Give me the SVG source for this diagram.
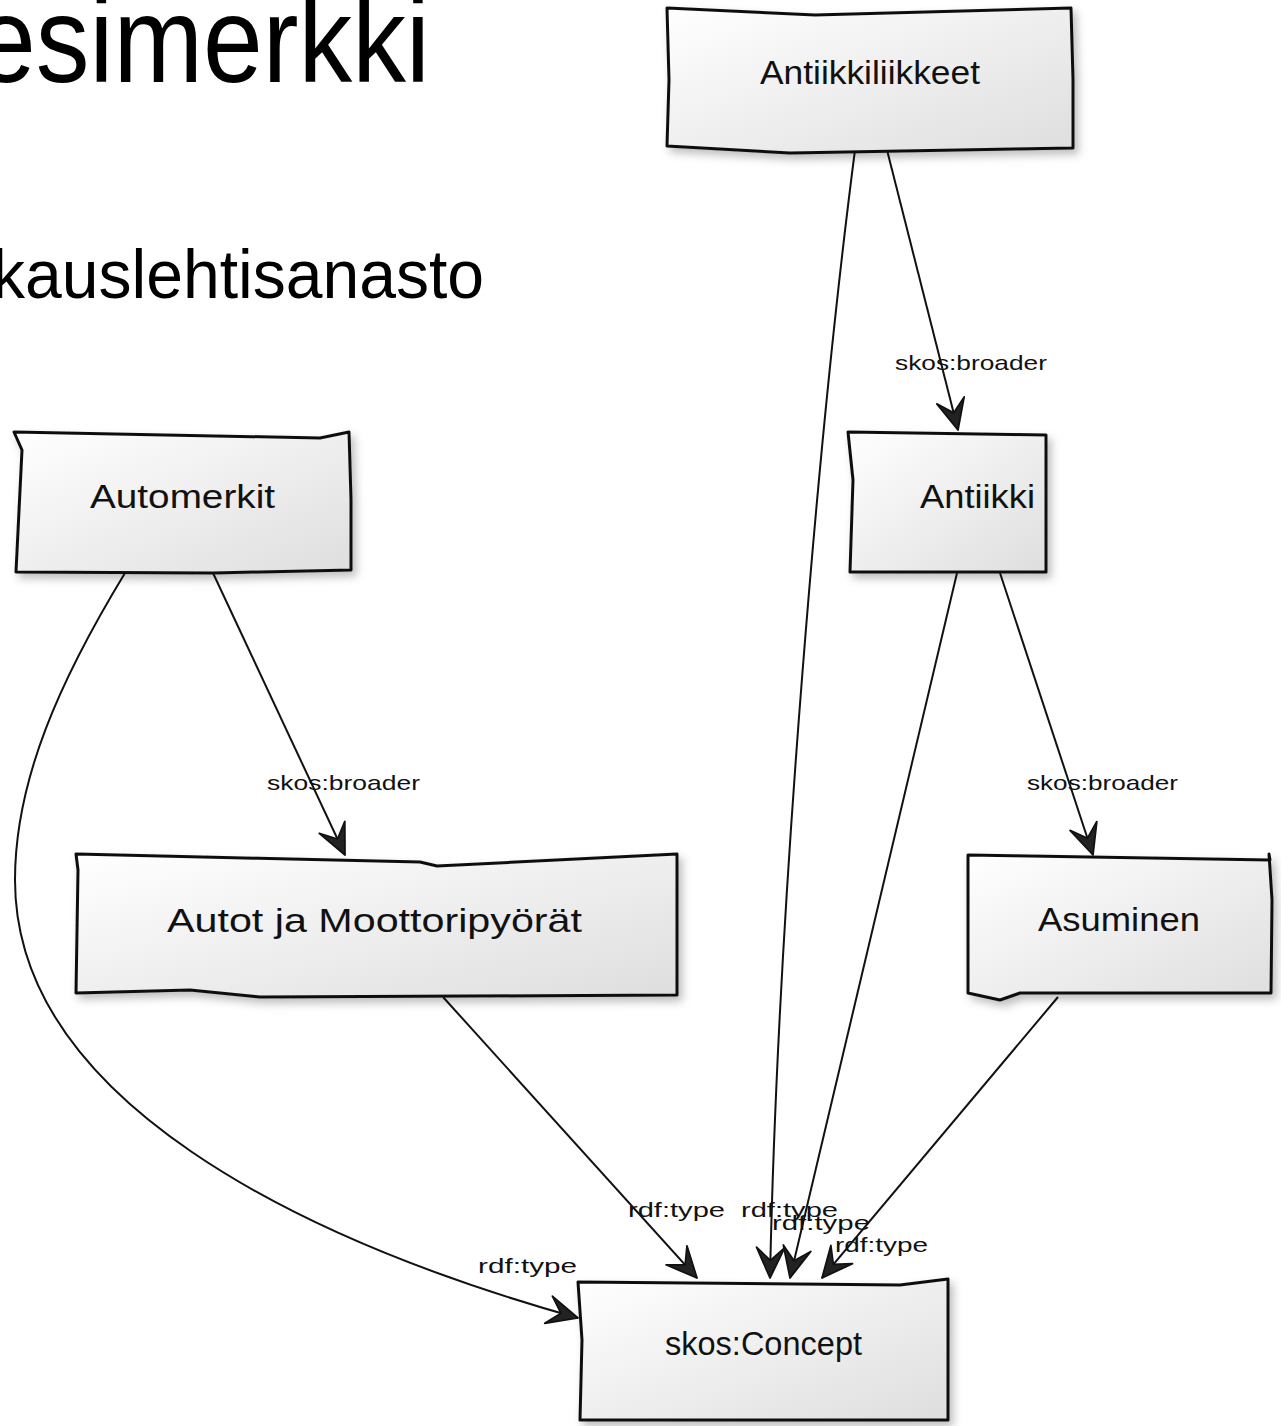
<svg xmlns="http://www.w3.org/2000/svg" width="1281" height="1426" viewBox="0 0 1281 1426">
<style>
.box{fill:url(#g);stroke:#111;stroke-width:3;stroke-linejoin:round;filter:url(#sh)}
.nt{font-family:"Liberation Sans",Arial,sans-serif;font-size:33px;fill:#111;text-anchor:start}
.lb{font-family:"Liberation Sans",Arial,sans-serif;font-size:21px;fill:#111}
.cn{fill:none;stroke:#111;stroke-width:2}
.title{font-family:"Liberation Sans",Arial,sans-serif;fill:#000}
</style>
<defs>
<linearGradient id="g" x1="0" y1="0" x2="1" y2="1">
<stop offset="0" stop-color="#ffffff"/>
<stop offset="1" stop-color="#dedede"/>
</linearGradient>
<filter id="sh" x="-10%" y="-10%" width="125%" height="130%">
<feDropShadow dx="4" dy="5" stdDeviation="4" flood-color="#000" flood-opacity="0.25"/>
</filter>
<marker id="ah" markerUnits="userSpaceOnUse" markerWidth="40" markerHeight="40" viewBox="-30 -15 34 30" refX="0" refY="0" orient="auto">
<path d="M0,0 L-26,-12 L-15,0 L-26,12 Z" fill="#222" stroke="#111" stroke-width="1.5" stroke-linejoin="round"/>
</marker>
</defs>
<rect width="1281" height="1426" fill="#fff"/>
<g id="title">
<text class="title" x="-24" y="82" font-size="122" textLength="454" lengthAdjust="spacingAndGlyphs">esimerkki</text>
<text class="title" x="-8" y="298" font-size="68" textLength="492" lengthAdjust="spacingAndGlyphs">kauslehtisanasto</text>
</g>
<g id="connectors">
<path class="cn" d="M887,150 L958,430" marker-end="url(#ah)"/>
<path class="cn" d="M855,150 C820,420 778,900 770,1278" marker-end="url(#ah)"/>
<path class="cn" d="M213,573 L345,855" marker-end="url(#ah)"/>
<path class="cn" d="M125,573 C60,680 15,780 15,880 C15,1100 300,1240 578,1318" marker-end="url(#ah)"/>
<path class="cn" d="M1000,573 L1093,855" marker-end="url(#ah)"/>
<path class="cn" d="M957,573 L790,1278" marker-end="url(#ah)"/>
<path class="cn" d="M443,997 L697,1278" marker-end="url(#ah)"/>
<path class="cn" d="M1058,997 L822,1278" marker-end="url(#ah)"/>
<text class="lb" x="895" y="370" textLength="152" lengthAdjust="spacingAndGlyphs">skos:broader</text>
<text class="lb" x="267" y="790" textLength="153" lengthAdjust="spacingAndGlyphs">skos:broader</text>
<text class="lb" x="1027" y="790" textLength="151" lengthAdjust="spacingAndGlyphs">skos:broader</text>
<text class="lb" x="478" y="1273" textLength="99" lengthAdjust="spacingAndGlyphs">rdf:type</text>
<text class="lb" x="628" y="1217" textLength="97" lengthAdjust="spacingAndGlyphs">rdf:type</text>
<text class="lb" x="741" y="1217" textLength="97" lengthAdjust="spacingAndGlyphs">rdf:type</text>
<text class="lb" x="772" y="1230" textLength="98" lengthAdjust="spacingAndGlyphs">rdf:type</text>
<text class="lb" x="835" y="1252" textLength="93" lengthAdjust="spacingAndGlyphs">rdf:type</text>
</g>
<g id="n-antiikkiliikkeet">
<polygon class="box" points="667,8 815,15 1071,8 1073,80 1073,148 790,153 667,146 669,80"/>
<text class="nt" x="760" y="84" textLength="220" lengthAdjust="spacingAndGlyphs">Antiikkiliikkeet</text>
</g>
<g id="n-automerkit">
<polygon class="box" points="14,432 320,438 349,432 351,500 351,570 213,573 16,572 22,450"/>
<text class="nt" x="90" y="508" textLength="185" lengthAdjust="spacingAndGlyphs">Automerkit</text>
</g>
<g id="n-antiikki">
<polygon class="box" points="848,432 1046,435 1046,572 850,572 853,480"/>
<text class="nt" x="920" y="508" textLength="115" lengthAdjust="spacingAndGlyphs">Antiikki</text>
</g>
<g id="n-autot">
<polygon class="box" points="76,854 420,862 437,866 677,854 677,995 260,997 190,990 76,993 78,870"/>
<text class="nt" x="167" y="932" textLength="415" lengthAdjust="spacingAndGlyphs">Autot ja Moottoripyörät</text>
</g>
<g id="n-asuminen">
<polygon class="box" points="968,855 1270,860 1269,854 1272,900 1271,993 1020,993 1000,1000 968,993"/>
<text class="nt" x="1038" y="931" textLength="162" lengthAdjust="spacingAndGlyphs">Asuminen</text>
</g>
<g id="n-concept">
<polygon class="box" points="578,1282 900,1285 948,1279 948,1420 580,1420 582,1340"/>
<text class="nt" x="665" y="1355" textLength="197" lengthAdjust="spacingAndGlyphs">skos:Concept</text>
</g>
</svg>
